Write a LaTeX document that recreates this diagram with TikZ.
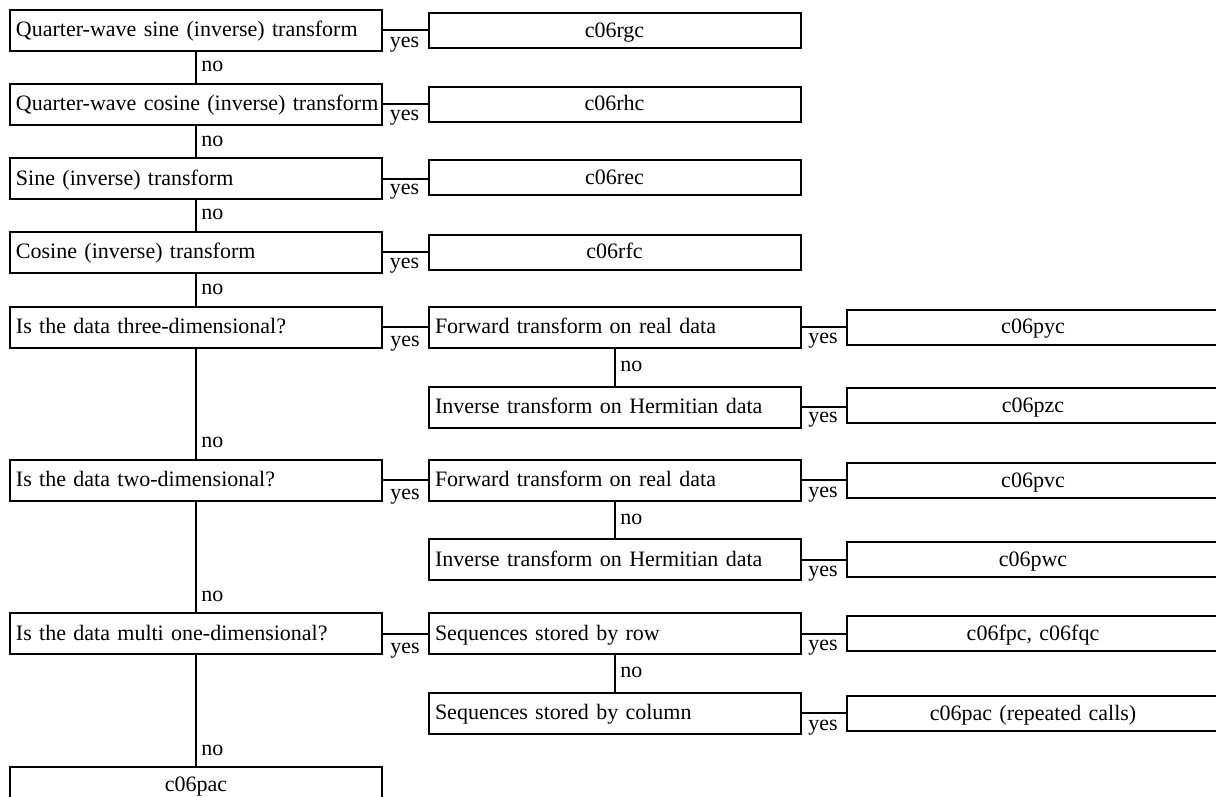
\documentclass[tikz,border=0pt]{standalone}
\usepackage{fontspec}
\setmainfont{Liberation Serif}
\usetikzlibrary{calc}
\begin{document}
\begin{tikzpicture}[x=0.75pt,y=-0.75pt,
  txt/.style={font=\fontsize{16.5}{19}\selectfont},
  dec/.style={txt, draw, line width=1.5pt, minimum width=279pt, minimum height=30.75pt,
    text width=270pt, inner xsep=4.5pt, inner ysep=0pt, align=left,
    text height=10.9pt, text depth=0.6pt},
  res/.style={txt, draw, line width=1.5pt, minimum width=279pt, minimum height=26.25pt,
    text width=270pt, inner xsep=4.5pt, inner ysep=0pt, align=center,
    text height=10.9pt, text depth=0.6pt},
  conn/.style={line width=1.5pt},
  lab/.style={txt, inner sep=0pt}]
\useasboundingbox (0,0) rectangle (1216,796);
\clip (0,0) rectangle (1216,796);
% left column
\node[dec] (d1) at (196,30) {\mbox{Quarter-wave sine (inverse) transform}};
\node[dec] (d2) at (196,104) {\mbox{Quarter-wave cosine (inverse) transform}};
\node[dec] (d3) at (196,178.5) {Sine (inverse) transform};
\node[dec] (d4) at (196,252) {Cosine (inverse) transform};
\node[dec] (d5) at (196,327) {Is the data three-dimensional?};
\node[dec] (d6) at (196,480) {Is the data two-dimensional?};
\node[dec] (d7) at (196,633.5) {Is the data multi one-dimensional?};
\node[res] (pac) at (196,784.5) {c06pac};
% results, second column
\node[res] (r1) at (614.5,30.5) {c06rgc};
\node[res] (r2) at (614.5,104) {c06rhc};
\node[res] (r3) at (614.5,177.5) {c06rec};
\node[res] (r4) at (614.5,252) {c06rfc};
% decisions, second column
\node[dec] (m5) at (615,327) {Forward transform on real data};
\node[dec] (m6) at (615,407) {Inverse transform on Hermitian data};
\node[dec] (m7) at (615,480) {Forward transform on real data};
\node[dec] (m8) at (615,559.5) {Inverse transform on Hermitian data};
\node[dec] (m9) at (615,633.5) {Sequences stored by row};
\node[dec] (m10) at (615,713) {Sequences stored by column};
% results, third column
\node[res] (rr5) at (1033,327) {c06pyc};
\node[res] (rr6) at (1033,405.5) {c06pzc};
\node[res] (rr7) at (1033,480.5) {c06pvc};
\node[res] (rr8) at (1033,559.5) {c06pwc};
\node[res] (rr9) at (1033,633.5) {c06fpc, c06fqc};
\node[res] (rr10) at (1033,713.5) {c06pac (repeated calls)};
% yes connectors
\foreach \a/\b in {d1/r1,d2/r2,d3/r3,d4/r4,d5/m5,d6/m7,d7/m9,m5/rr5,m6/rr6,m7/rr7,m8/rr8,m9/rr9,m10/rr10}{
  \draw[conn] (\a.east) -- (\a.east -| \b.west);
  \node[lab, anchor=base east] at ($(\b.south west)+(-8,-2)$) {yes};
}
% no connectors, left column
\foreach \a/\b in {d1/d2,d2/d3,d3/d4,d4/d5,d5/d6,d6/d7,d7/pac}{
  \draw[conn] (\a.south) -- (\b.north);
  \node[lab, anchor=base west] at ($(\b.north)+(5,-11)$) {no};
}
% no connectors, second column
\foreach \a/\b in {m5/m6,m7/m8,m9/m10}{
  \draw[conn] (\a.south) -- (\b.north);
  \node[lab, anchor=base west] at ($(\b.north)+(5,-14)$) {no};
}
\end{tikzpicture}
\end{document}
